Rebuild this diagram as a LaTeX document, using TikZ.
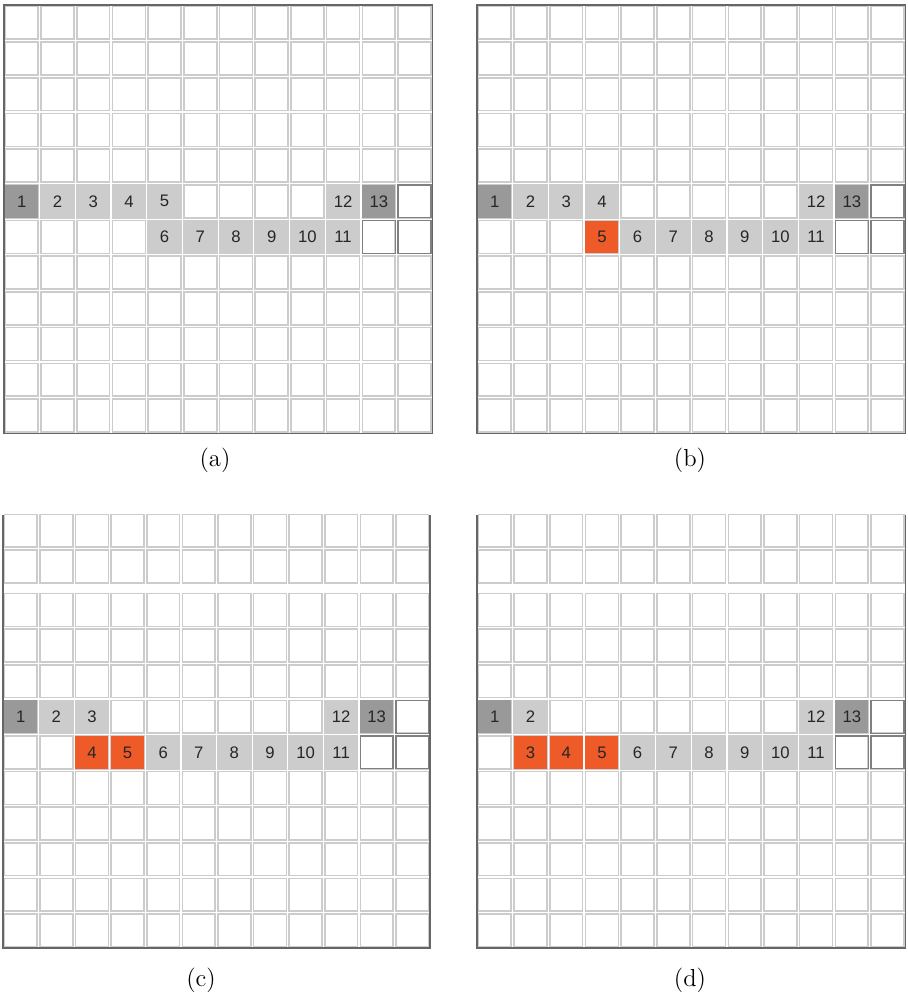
\documentclass[tikz,border=0pt]{standalone}
\usepackage{fontspec}
\newfontfamily\cellfont{Liberation Sans}
\definecolor{pathorange}{RGB}{238,90,40}

% one 12 x 12 board, rows #1 to #2
\newcommand{\boardrows}[2]{%
  \foreach \i in {0,...,11}
    \foreach \j in {#1,...,#2}
      \draw[gridline] (\i+0.04,\j+0.04) rectangle (\i+0.96,\j+0.96);}

\begin{document}
\begin{tikzpicture}[
    x=0.02cm, y=-0.02cm,
    gridline/.style={draw=black!20, line width=0.9pt},
    frame/.style={draw=black!60, line width=0.9pt},
    boxed/.style={draw=black!50, line width=0.7pt},
    cell/.style={rectangle, minimum size=0.66cm, inner sep=0pt, font=\cellfont\fontsize{9.5}{10}\selectfont, text=black!85},
    endcell/.style={cell, fill=black!40},
    visited/.style={cell, fill=black!20},
    moved/.style={cell, fill=pathorange},
    caption/.style={font=\fontsize{14}{16}\selectfont},
]
    \useasboundingbox (0,0) rectangle (907,996);

    % (a) initial path
    \begin{scope}[shift={(4,5)}, x=0.714cm, y=-0.714cm]
        \boardrows{0}{11}
        \draw[frame] (0,0) rectangle (12,12);
        \draw[boxed] (11.04,5.04) rectangle (11.96,5.96);
        \draw[boxed] (10.04,6.04) rectangle (10.96,6.96);
        \draw[boxed] (11.04,6.04) rectangle (11.96,6.96);
        \node[endcell] (a1) at (0.5,5.5) {1};
        \foreach \k in {2,...,5}
            \node[visited] (a\k) at ({\k-0.5},5.5) {\k};
        \foreach \k in {6,...,11}
            \node[visited] (a\k) at ({\k-1.5},6.5) {\k};
        \node[visited] (a12) at (9.5,5.5) {12};
        \node[endcell] (a13) at (10.5,5.5) {13};
    \end{scope}

    % (b) one cell moved down
    \begin{scope}[shift={(477,5)}, x=0.714cm, y=-0.714cm]
        \boardrows{0}{11}
        \draw[frame] (0,0) rectangle (12,12);
        \draw[boxed] (11.04,5.04) rectangle (11.96,5.96);
        \draw[boxed] (10.04,6.04) rectangle (10.96,6.96);
        \draw[boxed] (11.04,6.04) rectangle (11.96,6.96);
        \node[endcell] (b1) at (0.5,5.5) {1};
        \foreach \k in {2,...,4}
            \node[visited] (b\k) at ({\k-0.5},5.5) {\k};
        \node[moved] (b5) at (3.5,6.5) {5};
        \foreach \k in {6,...,11}
            \node[visited] (b\k) at ({\k-1.5},6.5) {\k};
        \node[visited] (b12) at (9.5,5.5) {12};
        \node[endcell] (b13) at (10.5,5.5) {13};
    \end{scope}

    % (c) two cells moved down
    \begin{scope}[shift={(3,513)}, x=0.712cm, y=-0.712cm]
        \boardrows{0}{1}
        \begin{scope}[yshift=-0.16cm]
            \boardrows{2}{11}
            \draw[frame] (0,-0.17) -- (0,12) -- (12,12) -- (12,-0.17);
            \draw[boxed] (11.04,5.04) rectangle (11.96,5.96);
            \draw[boxed] (10.04,6.04) rectangle (10.96,6.96);
            \draw[boxed] (11.04,6.04) rectangle (11.96,6.96);
            \node[endcell] (c1) at (0.5,5.5) {1};
            \foreach \k in {2,3}
                \node[visited] (c\k) at ({\k-0.5},5.5) {\k};
            \node[moved] (c4) at (2.5,6.5) {4};
            \node[moved] (c5) at (3.5,6.5) {5};
            \foreach \k in {6,...,11}
                \node[visited] (c\k) at ({\k-1.5},6.5) {\k};
            \node[visited] (c12) at (9.5,5.5) {12};
            \node[endcell] (c13) at (10.5,5.5) {13};
        \end{scope}
    \end{scope}

    % (d) three cells moved down
    \begin{scope}[shift={(477,513)}, x=0.714cm, y=-0.712cm]
        \boardrows{0}{1}
        \begin{scope}[yshift=-0.16cm]
            \boardrows{2}{11}
            \draw[frame] (0,-0.17) -- (0,12) -- (12,12) -- (12,-0.17);
            \draw[boxed] (11.04,5.04) rectangle (11.96,5.96);
            \draw[boxed] (10.04,6.04) rectangle (10.96,6.96);
            \draw[boxed] (11.04,6.04) rectangle (11.96,6.96);
            \node[endcell] (d1) at (0.5,5.5) {1};
            \node[visited] (d2) at (1.5,5.5) {2};
            \foreach \k in {3,4,5}
                \node[moved] (d\k) at ({\k-1.5},6.5) {\k};
            \foreach \k in {6,...,11}
                \node[visited] (d\k) at ({\k-1.5},6.5) {\k};
            \node[visited] (d12) at (9.5,5.5) {12};
            \node[endcell] (d13) at (10.5,5.5) {13};
        \end{scope}
    \end{scope}

    % captions
    \node[caption] (capa) at (215,460) {(a)};
    \node[caption] (capb) at (690,460) {(b)};
    \node[caption] (capc) at (201,980) {(c)};
    \node[caption] (capd) at (690,980) {(d)};
\end{tikzpicture}
\end{document}
